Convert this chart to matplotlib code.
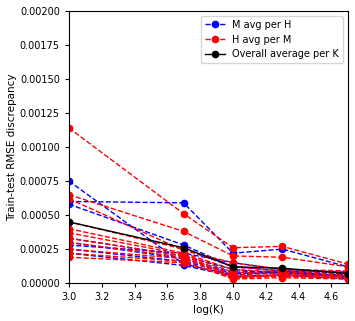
import matplotlib
matplotlib.use("Agg")
import matplotlib.pyplot as plt
import numpy as np
from matplotlib.ticker import FormatStrFormatter

logK = [3.0, 3.699, 4.0, 4.301, 4.699]

m_avg_per_h = [
    [0.00075, 0.00014, 0.00006, 0.00008, 0.00005],
    [0.00060, 0.00059, 0.00022, 0.00025, 0.00012],
    [0.00058, 0.00028, 0.00012, 0.00009, 0.00007],
    [0.00033, 0.00020, 0.00010, 0.00007, 0.00006],
    [0.00030, 0.00018, 0.00008, 0.00009, 0.00005],
    [0.00025, 0.00016, 0.00007, 0.00008, 0.00004],
    [0.00022, 0.00013, 0.00005, 0.00006, 0.00003],
    [0.00028, 0.00022, 0.00015, 0.00010, 0.00008],
]

h_avg_per_m = [
    [0.00114, 0.00051, 0.00026, 0.00027, 0.00014],
    [0.00065, 0.00038, 0.00020, 0.00019, 0.00012],
    [0.00062, 0.00024, 0.00015, 0.00010, 0.00009],
    [0.00045, 0.00025, 0.00012, 0.00009, 0.00008],
    [0.00040, 0.00022, 0.00010, 0.00008, 0.00007],
    [0.00037, 0.00021, 0.00008, 0.00007, 0.00006],
    [0.00033, 0.00020, 0.00006, 0.00006, 0.00005],
    [0.00030, 0.00019, 0.00005, 0.00005, 0.00004],
    [0.00025, 0.00018, 0.00004, 0.00005, 0.00004],
    [0.00022, 0.00016, 0.00003, 0.00004, 0.00003],
    [0.00019, 0.00015, 0.00004, 0.00006, 0.00005],
]

overall = [0.00045, 0.00026, 0.00012, 0.00011, 0.00007]

fig = plt.figure(figsize=(3.55, 3.21), dpi=100)
ax = fig.add_axes([0.194, 0.118, 0.786, 0.848])

for i, s in enumerate(m_avg_per_h):
    ax.plot(logK, s, '--o', color='blue', lw=1.0, ms=4.5,
            label='M avg per H' if i == 0 else None)
for i, s in enumerate(h_avg_per_m):
    ax.plot(logK, s, '--o', color='red', lw=1.0, ms=4.5,
            label='H avg per M' if i == 0 else None)
ax.plot(logK, overall, '-o', color='black', lw=1.0, ms=4.5,
        label='Overall average per K')

ax.set_xlim(3.0, 4.7)
ax.set_ylim(0, 0.002)
ax.set_xticks(np.arange(3.0, 4.61, 0.2))
ax.set_yticks(np.arange(0, 0.00201, 0.00025))
ax.yaxis.set_major_formatter(FormatStrFormatter('%.5f'))
ax.xaxis.set_major_formatter(FormatStrFormatter('%.1f'))
ax.tick_params(labelsize=7, length=3)
ax.set_xlabel('log(K)', fontsize=7.5, labelpad=2)
ax.set_ylabel('Train-test RMSE discrepancy', fontsize=7.5, labelpad=2)
ax.legend(loc='upper right', fontsize=7)

fig.savefig('out.png', dpi=100)
